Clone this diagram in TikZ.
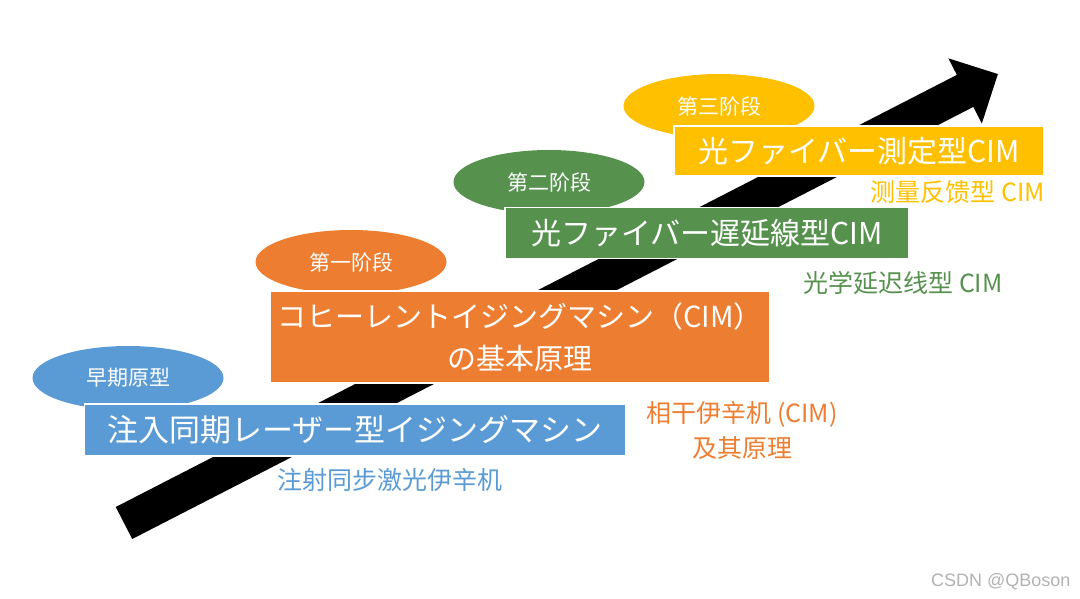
\documentclass[tikz,border=0pt]{standalone}
\usepackage{fontspec}
\newfontfamily\jpfont{Noto Sans CJK JP}
\newfontfamily\scfont{Noto Sans CJK SC}
\newfontfamily\wmfont{Liberation Sans}
\usepackage{tikz}
\usetikzlibrary{arrows.meta, shapes.geometric}
\definecolor{cimblue}{HTML}{5B9BD5}
\definecolor{cimorange}{HTML}{ED7D31}
\definecolor{cimgreen}{HTML}{56914E}
\definecolor{cimyellow}{HTML}{FFC000}

\begin{document}
\begin{tikzpicture}[
  x=1pt, y=-1pt,
  stagebox/.style={
    draw=white,
    line width=1.5pt,
    text=white,
    inner sep=0pt,
    align=center,
    font=\jpfont\fontsize{30}{42}\selectfont
  },
  stagetag/.style={
    ellipse,
    inner sep=0pt,
    minimum width=191pt,
    minimum height=64pt,
    text=white,
    font=\scfont\fontsize{21}{24}\selectfont
  },
  stagenote/.style={
    align=center,
    font=\scfont\fontsize{25}{35}\selectfont
  },
  trend/.style={line width=36pt, -{Triangle[length=37pt 0, width=71pt 0]}}
]
  \useasboundingbox (0,0) rectangle (1080,599);

  \coordinate (tail) at (124,523);
  \coordinate (tip) at (998,74);
  \draw[trend] (tail) -- (tip);

  \node[stagetag, fill=cimblue] (early) at (128,378) {早期原型};
  \node[stagetag, fill=cimorange] (first) at (351,262) {第一阶段};
  \node[stagetag, fill=cimgreen] (second) at (549,182) {第二阶段};
  \node[stagetag, fill=cimyellow] (third) at (719,106) {第三阶段};

  \node[stagebox, fill=cimblue, minimum width=541pt, minimum height=52pt,
    font=\jpfont\fontsize{31}{36}\selectfont] (injection) at (355,430)
    {注入同期レーザー型イジングマシン};
  \node[stagebox, fill=cimorange, minimum width=499pt, minimum height=92pt,
    font=\jpfont\fontsize{29}{42}\selectfont] (basic) at (520,337)
    {コヒーレントイジングマシン（CIM）\\の基本原理};
  \node[stagebox, fill=cimgreen, minimum width=404pt, minimum height=51pt] (delay) at (707,233)
    {光ファイバー遅延線型CIM};
  \node[stagebox, fill=cimyellow, minimum width=370pt, minimum height=50pt] (measure) at (859,151)
    {光ファイバー測定型CIM};

  \node[stagenote, text=cimblue] (injectionnote) at (390,480) {注射同步激光伊辛机};
  \node[stagenote, text=cimorange] (basicnote) at (742,430) {相干伊辛机 (CIM)\\及其原理};
  \node[stagenote, text=cimgreen] (delaynote) at (903,283) {光学延迟线型 CIM};
  \node[stagenote, text=cimyellow] (measurenote) at (958,192) {测量反馈型 CIM};

  \node[anchor=east, text=black!30, font=\wmfont\fontsize{18}{20}\selectfont] (mark)
    at (1074,582) {CSDN @QBoson};
\end{tikzpicture}
\end{document}
